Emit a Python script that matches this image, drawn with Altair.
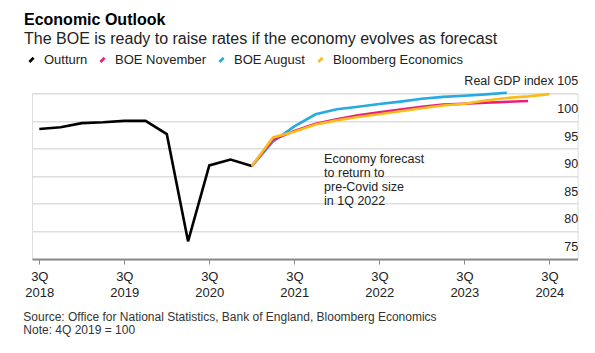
import altair as alt
import pandas as pd

FONT = "Liberation Sans"

# Quarter index: 0 = 3Q 2018, 4 = 3Q 2019, ..., 24 = 3Q 2024
series_names = ["Outturn", "BOE November", "BOE August", "Bloomberg Economics"]
series_colors = ["#000000", "#ea1f7b", "#26aae1", "#f9bd1b"]

outturn_q = list(range(0, 11))
outturn = [98.55, 98.85, 99.6, 99.75, 100.0, 100.0, 97.6, 78.2, 91.95, 93.0, 91.85]

boe_aug_q = list(range(10, 23))
boe_aug = [91.85, 96.3, 99.0, 101.2, 102.1, 102.55, 103.05, 103.5, 104.0, 104.35, 104.55, 104.8, 105.1]

boe_nov_q = list(range(10, 24))
boe_nov = [91.85, 96.6, 98.2, 99.5, 100.3, 101.0, 101.55, 102.05, 102.55, 102.95, 103.1, 103.3, 103.45, 103.6]

bbg_q = list(range(10, 25))
bbg = [91.85, 97.0, 98.05, 99.35, 100.1, 100.7, 101.2, 101.75, 102.3, 102.8, 103.1, 103.7, 104.15, 104.45, 104.85]

tick_quarters = [0, 4, 8, 12, 16, 20, 24]
y_ticks = [75, 80, 85, 90, 95, 100, 105]

annotation_lines = ["Economy forecast", "to return to", "pre-Covid size", "in 1Q 2022"]
footer_lines = ["Source: Office for National Statistics, Bank of England, Bloomberg Economics",
                "Note: 4Q 2019 = 100"]

rows = []
for name, qs, vals in [("Outturn", outturn_q, outturn),
                       ("BOE August", boe_aug_q, boe_aug),
                       ("BOE November", boe_nov_q, boe_nov),
                       ("Bloomberg Economics", bbg_q, bbg)]:
    for q, v in zip(qs, vals):
        rows.append({"series": name, "q": q, "value": v})
df = pd.DataFrame(rows)

x_enc = alt.X(
    "q:Q",
    title=None,
    scale=alt.Scale(domain=[-0.3435, 25.33], nice=False, zero=False),
    axis=alt.Axis(
        values=tick_quarters,
        labelExpr="['3Q', toString(2018 + datum.value / 4)]",
        grid=False,
        domainColor="#8a8a8a",
        domainWidth=2,
        tickColor="#8a8a8a",
        tickWidth=1,
        tickSize=5,
        labelFont=FONT,
        labelFontSize=13,
        labelColor="#222222",
        labelLineHeight=16.6,
        labelPadding=6,
        labelBaseline="top",
    ),
)
y_enc = alt.Y(
    "value:Q",
    title=None,
    scale=alt.Scale(domain=[75, 105], nice=False, zero=False),
    axis=alt.Axis(
        orient="right",
        values=y_ticks,
        labelExpr="datum.value == 105 ? 'Real GDP index 105' : datum.label",
        domain=False,
        ticks=False,
        grid=True,
        gridColor="#dedede",
        gridWidth=1.5,
        labelFont=FONT,
        labelFontSize=12.5,
        labelColor="#222222",
        labelAlign="right",
        labelBaseline="middle",
        labelPadding=0,
        labelOffset=-12.5,
        labelOverlap=False,
        labelBound=False,
    ),
)

lines = alt.Chart(df).mark_line(strokeWidth=2.6, strokeJoin="miter").encode(
    x=x_enc,
    y=y_enc,
    color=alt.Color(
        "series:N",
        scale=alt.Scale(domain=series_names, range=series_colors),
        legend=alt.Legend(
            title=None,
            orient="none",
            legendX=-7,
            legendY=-40,
            direction="horizontal",
            symbolType="M-0.5,0.5L0.5,-0.5",
            symbolSize=72,
            symbolStrokeWidth=2.6,
            labelFont=FONT,
            labelFontSize=13,
            labelColor="#222222",
            labelOffset=6,
            columnPadding=7,
            padding=0,
        ),
    ),
)

ann_df = pd.DataFrame({"q": [13.4], "value": [93.12], "txt": [annotation_lines]})
annotation = alt.Chart(ann_df).mark_text(
    align="left", baseline="middle", font=FONT, fontSize=12.5, lineHeight=14, color="#222222"
).encode(x=x_enc, y=y_enc, text="txt")

foot_df = pd.DataFrame({"txt": [footer_lines]})
footer = alt.Chart(foot_df).mark_text(
    align="left", baseline="middle", font=FONT, fontSize=12, lineHeight=13.3, color="#333333"
).encode(x=alt.value(-8.7), y=alt.value(223.4), text="txt")

chart = alt.layer(lines, annotation, footer).properties(
    width=545.6,
    height=165.7,
    padding={"left": 32, "top": 93.3, "right": 17.4, "bottom": 94},
    autosize=alt.AutoSizeParams(type="none"),
    title=alt.Title(
        "Economic Outlook",
        subtitle="The BOE is ready to raise rates if the economy evolves as forecast",
        anchor="start",
        frame="group",
        font=FONT,
        fontSize=16,
        fontWeight="bold",
        color="#000000",
        subtitleFont=FONT,
        subtitleFontSize=16,
        subtitleColor="#222222",
        subtitlePadding=3,
        dx=-8,
        dy=-2,
    ),
).configure_view(stroke=None).configure(background="white")

chart.save("out.html", embed_options={"renderer": "svg", "actions": False})
